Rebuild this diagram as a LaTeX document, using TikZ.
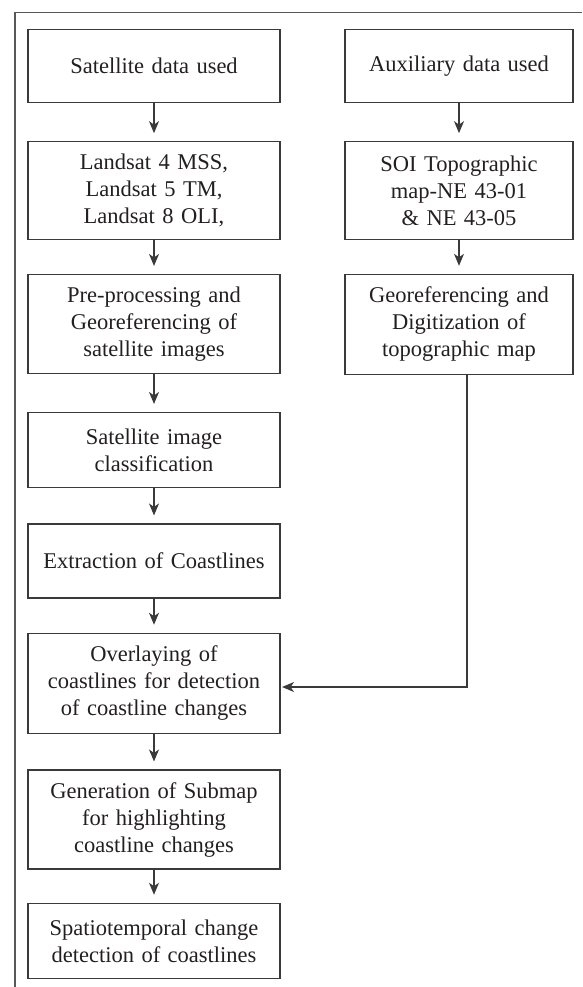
\documentclass[tikz,border=0pt]{standalone}
\usepackage{fontspec}
\setmainfont{Liberation Serif}
\usetikzlibrary{arrows.meta}
\definecolor{linecol}{HTML}{3A3A3A}
\definecolor{txtcol}{HTML}{231F20}
\tikzset{
  flowbox/.style={draw=linecol, line width=1.1pt, inner xsep=0pt, inner ysep=0pt,
    align=center, text=txtcol, font=\fontsize{22.5}{27}\selectfont},
  leftbox/.style={flowbox, text width=252pt},
  rightbox/.style={flowbox, text width=228pt},
  flowarrow/.style={draw=linecol, line width=1.1pt, -{Stealth[length=12pt,width=10pt,inset=3.5pt]}},
  framecol/.style={draw=linecol!85, line width=1.2pt}
}
\begin{document}
\begin{tikzpicture}[x=1pt,y=-1pt]
\useasboundingbox (0,0) rectangle (582,987);
\draw[framecol] (15,987) -- (15,12.5) -- (582,12.5);

% left column
\node[leftbox, minimum height=73.4pt] (b1) at (154,66) {Satellite data used};
\node[leftbox, minimum height=98pt] (b2) at (154,190.7) {Landsat 4 MSS,\\ Landsat 5 TM,\\ Landsat 8 OLI,};
\node[leftbox, minimum height=99pt] (b3) at (154,324) {Pre-processing and\\ Georeferencing of\\ satellite images};
\node[leftbox, minimum height=75pt] (b4) at (154,450) {Satellite image\\ classification};
\node[leftbox, minimum height=74pt] (b5) at (154,561) {Extraction of Coastlines};
\node[leftbox, minimum height=100pt] (b6) at (154,683.3) {Overlaying of\\ coastlines for detection\\ of coastline changes};
\node[leftbox, minimum height=99pt] (b7) at (154,819.5) {Generation of Submap\\ for highlighting\\ coastline changes};
\node[leftbox, minimum height=75pt] (b8) at (154,940.8) {Spatiotemporal change\\ detection of coastlines};

% right column
\node[rightbox, minimum height=73.4pt] (r1) at (459,66) {Auxiliary data used};
\node[rightbox, minimum height=97.6pt] (r2) at (459,190.5) {SOI Topographic\\ map-NE 43-01\\ \& NE 43-05};
\node[rightbox, minimum height=99.7pt] (r3) at (459,324.2) {Georeferencing and\\ Digitization of\\ topographic map};

% arrows
\foreach \a/\b in {b1/b2,b2/b3,b3/b4,b4/b5,b5/b6,b6/b7,b7/b8,r1/r2,r2/r3}
  \draw[flowarrow, shorten >=8pt] (\a) -- (\b);

\coordinate (bend) at (467,687);
\draw[flowarrow, shorten >=1.5pt] (r3.south -| bend) -- (bend) -- (bend -| b6.east);
\end{tikzpicture}
\end{document}
